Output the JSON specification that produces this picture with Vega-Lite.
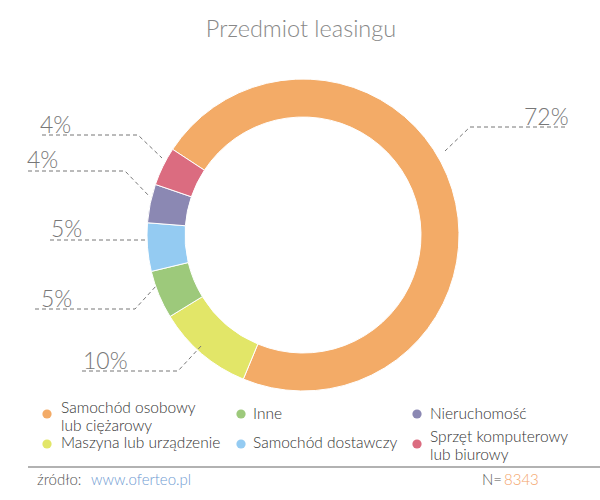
{
  "$schema": "https://vega.github.io/schema/vega-lite/v6.json",
  "width": 594,
  "height": 470,
  "autosize": {"type": "none"},
  "padding": {"left": 6, "top": 0, "right": 0, "bottom": 30},
  "background": "white",
  "config": {"view": {"stroke": null}, "font": "Lato"},
  "datasets": {
    "slices": [
      {"cat": "Samochód osobowy lub ciężarowy", "pct": 72, "ord": 1},
      {"cat": "Maszyna lub urządzenie", "pct": 10, "ord": 2},
      {"cat": "Inne", "pct": 5, "ord": 3},
      {"cat": "Samochód dostawczy", "pct": 5, "ord": 4},
      {"cat": "Nieruchomość", "pct": 4, "ord": 5},
      {"cat": "Sprzęt komputerowy lub biurowy", "pct": 4, "ord": 6}
    ],
    "leaders": [
      {"seg": "a", "ord": 1, "lx": 565, "ly": 127},
      {"seg": "a", "ord": 2, "lx": 470, "ly": 127},
      {"seg": "a", "ord": 3, "lx": 445, "ly": 151},
      {"seg": "b", "ord": 1, "lx": 42, "ly": 135},
      {"seg": "b", "ord": 2, "lx": 138, "ly": 135},
      {"seg": "b", "ord": 3, "lx": 162, "ly": 158},
      {"seg": "c", "ord": 1, "lx": 28, "ly": 171},
      {"seg": "c", "ord": 2, "lx": 125, "ly": 171},
      {"seg": "c", "ord": 3, "lx": 150, "ly": 197},
      {"seg": "d", "ord": 1, "lx": 50, "ly": 240},
      {"seg": "d", "ord": 2, "lx": 145, "ly": 240},
      {"seg": "e", "ord": 1, "lx": 35, "ly": 309},
      {"seg": "e", "ord": 2, "lx": 135, "ly": 309},
      {"seg": "e", "ord": 3, "lx": 157, "ly": 285},
      {"seg": "f", "ord": 1, "lx": 82, "ly": 371},
      {"seg": "f", "ord": 2, "lx": 178, "ly": 371},
      {"seg": "f", "ord": 3, "lx": 202, "ly": 345}
    ],
    "pctlabels": [
      {"txt": "72%", "lx": 524, "ly": 125},
      {"txt": "4%", "lx": 40, "ly": 133},
      {"txt": "4%", "lx": 27, "ly": 168},
      {"txt": "5%", "lx": 51, "ly": 237},
      {"txt": "5%", "lx": 41, "ly": 307},
      {"txt": "10%", "lx": 83, "ly": 369}
    ],
    "legend": [
      {"cat": "Samochód osobowy lub ciężarowy", "txt": "Samochód osobowy\nlub ciężarowy", "px": 47, "tx": 61, "ly": 414, "ty": 408},
      {"cat": "Inne", "txt": "Inne", "px": 241, "tx": 253, "ly": 414, "ty": 414},
      {"cat": "Nieruchomość", "txt": "Nieruchomość", "px": 417, "tx": 430, "ly": 414, "ty": 414},
      {"cat": "Maszyna lub urządzenie", "txt": "Maszyna lub urządzenie", "px": 47, "tx": 61, "ly": 444, "ty": 443},
      {"cat": "Samochód dostawczy", "txt": "Samochód dostawczy", "px": 241, "tx": 253, "ly": 444, "ty": 443},
      {"cat": "Sprzęt komputerowy lub biurowy", "txt": "Sprzęt komputerowy\nlub biurowy", "px": 417, "tx": 430, "ly": 444, "ty": 437}
    ]
  },
  "layer": [
    {
      "data": {"name": "slices"},
      "mark": {"type": "arc", "outerRadius": 156, "innerRadius": 118, "stroke": "white", "strokeWidth": 1},
      "encoding": {
        "theta": {"field": "pct", "type": "quantitative", "stack": true, "scale": {"range": [-0.9896, 5.2936]}},
        "color": {
          "field": "cat", "type": "nominal", "legend": null,
          "scale": {
            "domain": ["Samochód osobowy lub ciężarowy", "Maszyna lub urządzenie", "Inne", "Samochód dostawczy", "Nieruchomość", "Sprzęt komputerowy lub biurowy"],
            "range": ["#F3AB67", "#E2E668", "#9DC97B", "#94CBF2", "#8B88B3", "#DB6C80"]
          }
        },
        "order": {"field": "ord", "type": "quantitative"}
      }
    },
    {
      "data": {"name": "leaders"},
      "mark": {"type": "line", "color": "#777777", "strokeWidth": 1, "strokeDash": [4, 3]},
      "encoding": {
        "x": {"field": "lx", "type": "quantitative", "axis": null, "scale": {"domain": [6, 600], "nice": false, "zero": false}},
        "y": {"field": "ly", "type": "quantitative", "axis": null, "scale": {"domain": [0, 470], "reverse": true, "nice": false, "zero": false}},
        "detail": {"field": "seg", "type": "nominal"},
        "order": {"field": "ord", "type": "quantitative"}
      }
    },
    {
      "data": {"name": "pctlabels"},
      "mark": {"type": "text", "align": "left", "baseline": "alphabetic", "fontSize": 23, "fontWeight": 300, "color": "#777777"},
      "encoding": {
        "x": {"field": "lx", "type": "quantitative", "axis": null, "scale": {"domain": [6, 600], "nice": false, "zero": false}},
        "y": {"field": "ly", "type": "quantitative", "axis": null, "scale": {"domain": [0, 470], "reverse": true, "nice": false, "zero": false}},
        "text": {"field": "txt", "type": "nominal"}
      }
    },
    {
      "data": {"values": [{"txt": "Przedmiot leasingu", "lx": 301, "ly": 37}]},
      "mark": {"type": "text", "align": "center", "baseline": "alphabetic", "fontSize": 23.5, "fontWeight": 300, "color": "#888888"},
      "encoding": {
        "x": {"field": "lx", "type": "quantitative", "axis": null, "scale": {"domain": [6, 600], "nice": false, "zero": false}},
        "y": {"field": "ly", "type": "quantitative", "axis": null, "scale": {"domain": [0, 470], "reverse": true, "nice": false, "zero": false}},
        "text": {"field": "txt", "type": "nominal"}
      }
    },
    {
      "data": {"name": "legend"},
      "mark": {"type": "point", "shape": "circle", "filled": true, "size": 85, "opacity": 1},
      "encoding": {
        "x": {"field": "px", "type": "quantitative", "axis": null, "scale": {"domain": [6, 600], "nice": false, "zero": false}},
        "y": {"field": "ly", "type": "quantitative", "axis": null, "scale": {"domain": [0, 470], "reverse": true, "nice": false, "zero": false}},
        "color": {"field": "cat", "type": "nominal", "legend": null}
      }
    },
    {
      "data": {"name": "legend"},
      "mark": {"type": "text", "align": "left", "baseline": "middle", "fontSize": 15.5, "fontWeight": 300, "lineBreak": "\n", "lineHeight": 18, "color": "#333333"},
      "encoding": {
        "x": {"field": "tx", "type": "quantitative", "axis": null, "scale": {"domain": [6, 600], "nice": false, "zero": false}},
        "y": {"field": "ty", "type": "quantitative", "axis": null, "scale": {"domain": [0, 470], "reverse": true, "nice": false, "zero": false}},
        "text": {"field": "txt", "type": "nominal"}
      }
    },
    {
      "data": {"values": [{"x1": 28, "x2": 600, "ly": 467}]},
      "mark": {"type": "rule", "color": "#999999", "strokeWidth": 1.5},
      "encoding": {
        "x": {"field": "x1", "type": "quantitative", "axis": null, "scale": {"domain": [6, 600], "nice": false, "zero": false}},
        "x2": {"field": "x2"},
        "y": {"field": "ly", "type": "quantitative", "axis": null, "scale": {"domain": [0, 470], "reverse": true, "nice": false, "zero": false}}
      }
    },
    {
      "data": {"values": [{"txt": "źródło:", "lx": 37, "ly": 480}, {"txt": "N=", "lx": 482, "ly": 480}]},
      "mark": {"type": "text", "align": "left", "baseline": "middle", "fontSize": 15, "fontWeight": 300, "color": "#555555"},
      "encoding": {
        "x": {"field": "lx", "type": "quantitative", "axis": null, "scale": {"domain": [6, 600], "nice": false, "zero": false}},
        "y": {"field": "ly", "type": "quantitative", "axis": null, "scale": {"domain": [0, 470], "reverse": true, "nice": false, "zero": false}},
        "text": {"field": "txt", "type": "nominal"}
      }
    },
    {
      "data": {"values": [{"txt": "www.oferteo.pl", "lx": 91, "ly": 480}]},
      "mark": {"type": "text", "align": "left", "baseline": "middle", "fontSize": 15, "fontWeight": 300, "color": "#6F9BD2"},
      "encoding": {
        "x": {"field": "lx", "type": "quantitative", "axis": null, "scale": {"domain": [6, 600], "nice": false, "zero": false}},
        "y": {"field": "ly", "type": "quantitative", "axis": null, "scale": {"domain": [0, 470], "reverse": true, "nice": false, "zero": false}},
        "text": {"field": "txt", "type": "nominal"}
      }
    },
    {
      "data": {"values": [{"txt": "8343", "lx": 504, "ly": 480}]},
      "mark": {"type": "text", "align": "left", "baseline": "middle", "fontSize": 15, "fontWeight": 300, "color": "#F4A46A"},
      "encoding": {
        "x": {"field": "lx", "type": "quantitative", "axis": null, "scale": {"domain": [6, 600], "nice": false, "zero": false}},
        "y": {"field": "ly", "type": "quantitative", "axis": null, "scale": {"domain": [0, 470], "reverse": true, "nice": false, "zero": false}},
        "text": {"field": "txt", "type": "nominal"}
      }
    }
  ]
}
